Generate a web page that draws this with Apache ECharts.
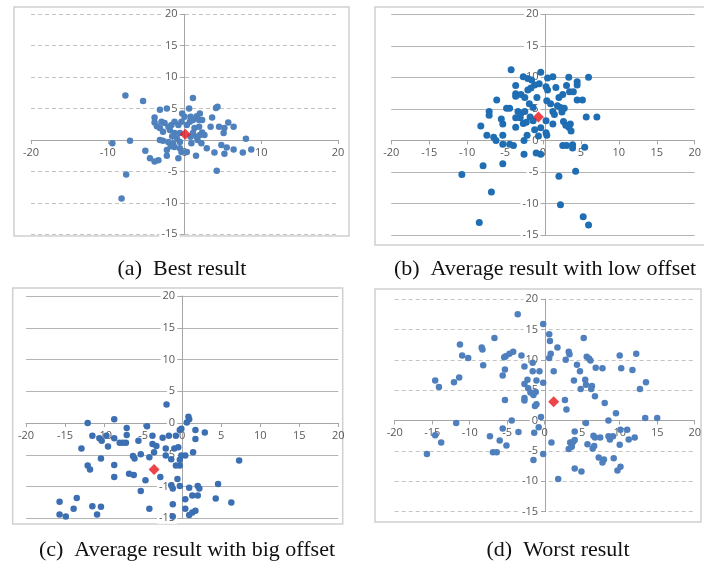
<!DOCTYPE html>
<html>
<head>
<meta charset="utf-8">
<script src="https://cdn.jsdelivr.net/npm/echarts@6/dist/echarts.min.js"></script>
<style>
html,body{margin:0;padding:0;background:#fff;}
#c{width:704px;height:564px;}
</style>
</head>
<body>
<div id="c"></div>
<script>
// ---- data ----
const captions = ["(a)  Best result", "(b)  Average result with low offset", "(c)  Average result with big offset", "(d)  Worst result"];
const xTicksA = 10, xTicksOther = 5;

const bestPts = [
[-7.7,7.1],[-5.4,6.2],[1.1,6.7],[-9.4,-0.5],[-7.1,-0.1],[-7.6,-5.5],[-8.2,-9.3],[-5.1,-1.7],[-4.5,-2.9],[-3.9,-3.4],
[-3.4,-3.2],[-3.2,4.8],[-2.3,5.0],[0.6,5.0],[-0.3,4.2],[-3.9,3.6],[-3.9,2.8],[-3.6,2.2],[-3.2,0],[-2.3,-1.6],
[-2.3,-2.5],[-0.8,-2.9],[0.3,-1.9],[1.5,-2.5],[2.9,-1.3],[3.9,-2.0],[4.2,-4.9],[4.1,5.1],[4.3,5.3],[3.6,3.6],
[3.4,2.1],[4.5,2.1],[5.7,2.8],[6.4,2.1],[5.2,1.9],[5.1,1.1],[4.8,-0.8],[5.5,-1.2],[5.2,-2.2],[6.4,-1.5],
[7.6,-2.0],[8.0,0.2],[8.7,-1.5],[2.0,4.2],[2.3,3.2],[2.3,1.2],[1.7,0],[0.9,-0.5],[2.6,0.8],[1.9,2.1],
[1.3,1.9],[1.1,3.2],[0.7,2.9],[0.3,2.4],[-0.4,2.9],[-0.8,2.4],[-1.3,2.9],[-1.7,2.4],[-2.1,2.1],[-2.6,2.7],
[-3.0,2.9],[-3.2,1.9],[-2.8,1.3],[-1.9,1.6],[-1.3,1.1],[-0.6,1.1],[-1.6,0.6],[-1.0,0.3],[-0.6,-0.3],[-1.5,-0.5],
[-2.1,-0.3],[-2.8,-0.1],[0.8,0.5],[1.1,1.1],[1.6,0.5],[2.0,0.8],[2.2,-0.5],[-0.6,-1.3],[-1.3,-1.1],[-1.8,-1.0],
[-0.4,-1.9],[0.8,3.7],[1.6,3.8],[1.9,3.2],[0.0,3.7]
];
const bestCenter = [[0.1,0.9]];

const lowPts = [
[-4.2,11.2],[-0.3,10.8],[-2.6,10.1],[-2.0,9.8],[0.6,9.9],[1.3,10.1],[3.4,10.0],[6.0,10.0],[4.5,9.3],[4.5,8.8],
[-3.6,8.7],[-1.1,8.8],[-0.5,9.0],[0.4,8.5],[0.6,8.0],[1.7,8.4],[3.1,8.7],[3.5,7.7],[4.0,7.7],[2.6,7.3],
[2.1,6.8],[-3.6,7.4],[-3.6,7.0],[-2.9,7.3],[-2.4,6.8],[-2.0,8.0],[-1.6,8.3],[-0.8,6.8],[0.5,6.3],[-6.1,6.4],
[4.5,6.4],[5.2,6.4],[-4.8,5.1],[-4.4,5.1],[-1.8,5.8],[-1.3,5.2],[1.9,5.5],[2.3,5.2],[2.8,5.1],[1.3,4.6],
[1.5,4.1],[-7.1,4.6],[-7.1,4.0],[-3.3,4.6],[-2.9,4.3],[-2.4,4.6],[-3.6,3.6],[-5.5,3.4],[-5.3,2.6],[-8.2,2.3],
[-3.6,2.1],[-2.6,2.7],[-2.2,2.9],[-1.3,3.1],[0.4,3.1],[1.3,2.6],[2.7,3.0],[3.0,2.4],[3.6,2.6],[3.4,2.1],
[3.7,1.5],[5.7,3.7],[7.1,3.7],[-1.1,1.7],[0.4,1.2],[0.5,0.8],[-0.6,0.7],[-2.1,0.8],[-7.4,0.8],[-6.5,0.5],
[-6.2,0],[-5.3,0.8],[-5.3,-0.6],[-4.4,-0.6],[-3.9,-0.8],[-2.5,0],[2.6,-0.8],[3.1,-0.8],[3.9,-0.7],[3.9,-1.2],
[5.5,-1.1],[-2.5,-2.2],[-0.9,-2.0],[-0.3,-2.2],[-7.9,-4.0],[-5.3,-3.7],[-10.7,-5.4],[2.1,-5.7],[4.3,-4.9],[-6.8,-8.2],
[2.3,-10.2],[-8.4,-13.0],[5.3,-12.1],[6.0,-13.4],[-3.0,3.6],[-1.7,3.7],[-0.3,2.0],[1.0,5.8],[2.5,4.5],[-1.5,9.6]
];
const lowCenter = [[-0.6,3.7]];

const bigPts = [
[-2.0,2.9],[0.8,1.0],[0.9,0.6],[0.6,0.1],[-0.3,-1.1],[-12.1,0],[-8.7,0.6],[-4.5,-0.5],[-11.5,-2.0],[-10.6,-2.4],
[-10.3,-2.8],[-9.7,-2.0],[-8.7,-2.4],[-9.5,-3.7],[-8.0,-3.1],[-7.6,-3.1],[-7.2,-3.1],[-7.1,-1.9],[-7.1,-0.8],[-5.6,-2.8],
[-3.8,-2.0],[-3.8,-3.3],[-3.3,-3.6],[-2.5,-2.3],[-1.7,-2.0],[-0.8,-2.0],[-0.1,-0.9],[1.7,-1.1],[1.7,-2.5],[2.9,-1.5],
[-2.1,-4.0],[-1.0,-4.0],[-0.5,-3.8],[-3.6,-4.6],[-4.2,-5.4],[-6.3,-5.2],[-6.1,-5.6],[-5.3,-4.9],[-10.4,-5.6],[-12.9,-4.0],
[-8.7,-6.6],[-12.1,-6.7],[-11.8,-7.3],[-8.7,-8.5],[-6.8,-8.0],[-6.2,-8.2],[-4.7,-9.0],[-2.8,-8.5],[-2.1,-5.1],[-1.4,-5.7],
[-0.3,-5.8],[-0.1,-5.1],[0.4,-5.1],[1.4,-4.6],[-0.8,-6.7],[-0.3,-6.7],[7.3,-5.9],[-0.6,-8.8],[-1.2,-10.3],[-1.4,-9.8],
[-0.3,-9.9],[-5.3,-10.7],[0.9,-10.2],[2.0,-9.9],[2.2,-10.3],[1.3,-11.4],[2.0,-11.4],[4.6,-9.6],[4.3,-11.9],[6.3,-12.5],
[0.4,-12.0],[-1.2,-12.8],[-4.2,-13.5],[0.4,-13.5],[-1.2,-14.7],[0.9,-14.5],[1.3,-14.1],[1.7,-13.8],[-15.7,-12.4],[-15.7,-14.4],
[-14.9,-14.7],[-13.5,-11.8],[-13.9,-13.5],[-11.5,-13.1],[-10.4,-13.2],[-10.9,-14.4]
];
const bigCenter = [[-3.6,-7.3]];

const worstPts = [
[-3.6,17.5],[-0.2,15.9],[0.6,14.2],[0.7,13.1],[-6.7,13.6],[5.2,13.6],[-11.3,12.5],[1.7,12.0],[3.2,11.3],[3.3,10.9],
[0.8,11.0],[0.6,10.3],[2.8,10.0],[-8.4,12.0],[-8.3,11.7],[-11.0,10.7],[-10.2,10.3],[-4.2,11.3],[-4.7,11.0],[-5.2,10.6],
[-5.4,10.4],[-3.1,10.7],[-2.7,8.9],[-1.6,9.5],[-1.6,8.1],[-0.7,8.1],[-8.2,9.1],[-5.3,8.4],[-5.6,7.4],[5.6,10.5],
[5.9,10.2],[6.1,9.9],[4.3,9.2],[4.7,8.1],[6.8,8.7],[7.7,8.6],[10.0,10.7],[10.2,8.6],[11.7,8.3],[12.2,11.0],
[1.2,8.1],[-14.6,6.6],[-14.1,5.5],[-12.1,6.3],[-11.4,7.1],[-2.3,6.7],[-1.1,6.6],[-0.2,6.2],[-2.7,6.0],[-2.2,5.3],
[-1.9,4.6],[-1.2,4.7],[-1.5,4.2],[-2.7,3.7],[-2.7,3.3],[-1.3,2.4],[-1.1,2.7],[-5.3,3.4],[3.9,6.6],[5.4,6.7],
[5.5,5.9],[4.8,5.2],[6.3,5.7],[6.2,5.2],[6.7,4.0],[8.0,2.9],[12.7,5.2],[13.5,6.3],[2.7,3.4],[2.9,1.8],
[9.5,1.2],[8.5,0],[13.4,0.4],[15.0,0.4],[-0.5,0.6],[-4.4,0],[-11.8,-0.4],[-0.8,-1.1],[-1.4,-2.0],[-5.6,-1.3],
[-3.5,-1.9],[-7.3,-2.6],[-14.6,-2.4],[-13.8,-3.6],[-6.0,-3.3],[-5.1,-4.1],[-6.9,-5.2],[-6.4,-5.2],[-15.7,-5.5],[0.9,-3.6],
[-0.2,-5.5],[-1.5,-6.5],[4.0,-1.8],[5.5,-0.4],[3.4,-3.6],[3.6,-4.0],[3.8,-3.5],[4.0,-3.2],[3.2,-4.7],[3.6,-4.3],
[5.7,-3.9],[6.5,-2.5],[6.7,-2.8],[7.4,-2.8],[6.4,-4.6],[6.6,-4.2],[8.5,-2.6],[8.7,-3.1],[10.1,-1.5],[10.0,-4.0],
[11.0,-1.5],[11.2,-3.1],[12.0,-2.8],[9.1,-2.6],[7.2,-6.1],[7.7,-6.9],[7.9,-6.4],[9.2,-6.2],[9.7,-8.2],[10.1,-7.6],
[4.0,-7.9],[4.9,-8.4],[1.8,-9.6]
];
const worstCenter = [[1.2,3.1]];

const xMin = -20, xMax = 20, yMin = -15, yMax = 20;

// ---- layout ----
const panels = [
  {grid:{left:31,top:14.3,width:307,height:220}, box:[14,7,335,229], xInt:xTicksA, grid_dash:true, pts:bestPts, ctr:bestCenter, color:'#4f81bd', size:6.5, cap:[182,269]},
  {grid:{left:391.3,top:14.3,width:308.4,height:220.7}, box:[375,7,340,238], xInt:xTicksOther, grid_dash:false, pts:lowPts, ctr:lowCenter, color:'#1f6db3', size:7, cap:[545,269]},
  {grid:{left:26,top:296,width:312.3,height:222.3}, box:[12.7,288,330,236], xInt:xTicksOther, grid_dash:false, pts:bigPts, ctr:bigCenter, color:'#3b6fb2', size:6.5, cap:[187,550]},
  {grid:{left:394.7,top:299,width:300.6,height:212.7}, box:[375,289,326,233], xInt:xTicksOther, grid_dash:true, pts:worstPts, ctr:worstCenter, color:'#4f7fbd', size:6.5, cap:[558,550]}
];

const axisCol = '#a6a6a6';
const labelStyle = {fontSize:11, color:'#595959', fontFamily:'Open Sans'};

const option = {
  animation:false,
  backgroundColor:'#fff',
  grid: panels.map(p=>Object.assign({containLabel:false}, p.grid)),
  xAxis: panels.map((p,i)=>({
    type:'value', gridIndex:i, min:xMin, max:xMax, interval:p.xInt, position:'bottom',
    // move the axis up to the y = 0 line
    offset: -p.grid.height * (0 - yMin) / (yMax - yMin),
    axisLine:{show:true, onZero:false, lineStyle:{color:axisCol, width:1}},
    axisTick:{show:true, length:4, lineStyle:{color:axisCol}},
    axisLabel:Object.assign({margin:7}, labelStyle),
    splitLine:{show:false}
  })),
  yAxis: panels.map((p,i)=>({
    type:'value', gridIndex:i, min:yMin, max:yMax, interval:5, position:'left',
    // move the axis right to the x = 0 line
    offset: -p.grid.width * (0 - xMin) / (xMax - xMin),
    axisLine:{show:true, onZero:false, lineStyle:{color:axisCol, width:1}},
    axisTick:{show:true, length:4, lineStyle:{color:axisCol}},
    axisLabel:Object.assign({margin:5, backgroundColor:'#fff', padding:[0,2]}, labelStyle),
    splitLine:{show:true, lineStyle:{color: p.grid_dash ? '#c4c4c4' : '#b4b4b4', width:1, type: p.grid_dash ? [4,3] : 'solid'}}
  })),
  series: [].concat(...panels.map((p,i)=>[
    {type:'scatter', xAxisIndex:i, yAxisIndex:i, data:p.pts, symbol:'circle', symbolSize:p.size, itemStyle:{color:p.color, opacity:1}, z:3},
    {type:'scatter', xAxisIndex:i, yAxisIndex:i, data:p.ctr, symbol:'diamond', symbolSize:11, itemStyle:{color:'#e8141b'}, z:4}
  ])),
  graphic: [].concat(
    panels.map(p=>({type:'rect', shape:{x:p.box[0], y:p.box[1], width:p.box[2], height:p.box[3]}, style:{fill:null, stroke:'#d0d0d0', lineWidth:1.5}, z:-1, silent:true})),
    panels.map((p,i)=>({type:'text', x:p.cap[0], y:p.cap[1], style:{text:captions[i], font:'22px "Liberation Serif"', fill:'#111', align:'center', verticalAlign:'middle'}, silent:true}))
  )
};

const chart = echarts.init(document.getElementById('c'), null, {renderer:'canvas', width:704, height:564});
chart.setOption(option);
</script>
</body>
</html>
